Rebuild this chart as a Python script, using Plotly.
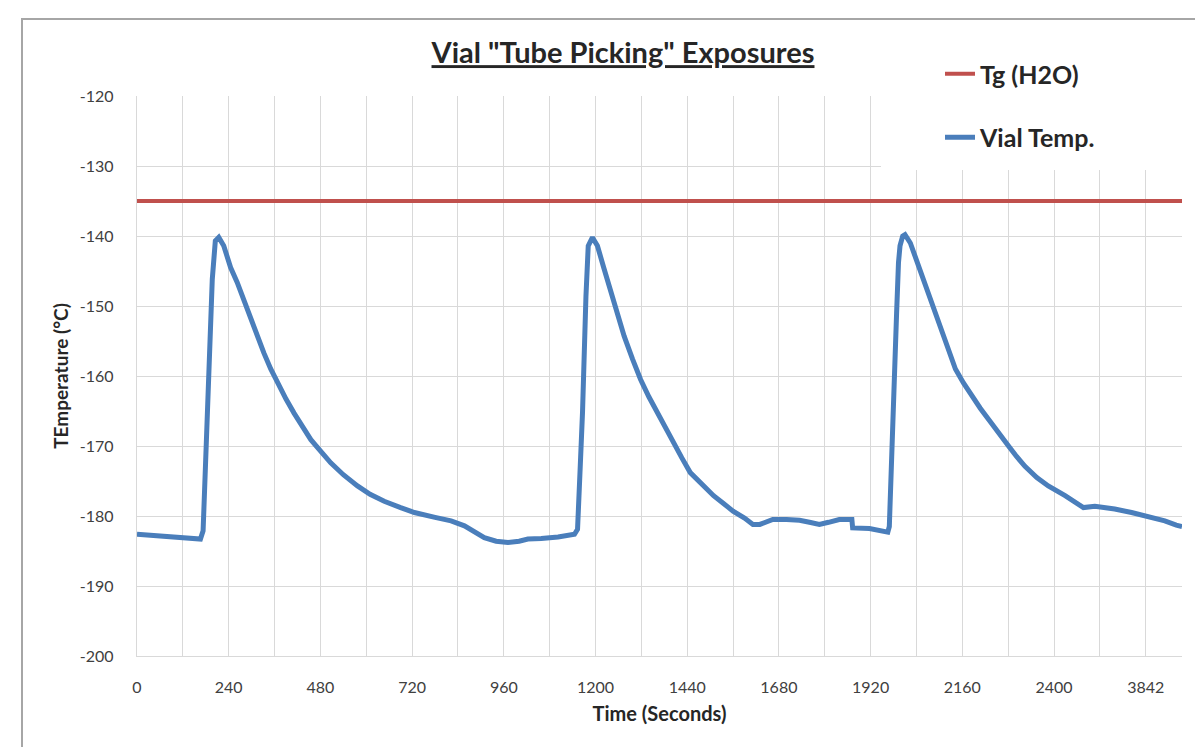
import plotly.graph_objects as go

# ---------------- data ----------------
time_s = [0, 60, 120, 166, 173, 180, 188, 197, 205, 214, 227, 245, 262, 280, 297, 315, 332, 350,
          367, 390, 411, 433, 455, 480, 507, 540, 577, 610, 647, 690, 726, 780, 822, 857, 880,
          909, 940, 971, 1000, 1023, 1058, 1102, 1145, 1153, 1160, 1166, 1175, 1181, 1192, 1205,
          1222, 1240, 1258, 1275, 1297, 1318, 1340, 1361, 1383, 1405, 1426, 1448, 1478, 1509,
          1535, 1560, 1590, 1612, 1630, 1664, 1700, 1734, 1760, 1786, 1810, 1838, 1871, 1873,
          1917, 1965, 1969, 1975, 1982, 1988, 1993, 1997, 2004, 2010, 2024, 2046, 2063, 2081,
          2099, 2116, 2142, 2163, 2185, 2207, 2229, 2255, 2281, 2302, 2324, 2355, 2385, 2429,
          2477, 2507, 2530, 2559, 2603, 2647, 2690, 2720, 2735]
vial_temp_c = [-182.6, -182.8, -183.1, -183.3, -182.1, -172.0, -160.5, -146.2, -140.7, -140.2,
               -141.4, -144.5, -146.6, -149.3, -151.9, -154.4, -156.7, -159.0, -161.0, -163.3,
               -165.3, -167.3, -169.1, -170.7, -172.4, -174.1, -175.7, -176.9, -177.9, -178.8,
               -179.5, -180.2, -180.7, -181.4, -182.2, -183.1, -183.6, -183.8, -183.6, -183.3,
               -183.2, -183.0, -182.6, -181.9, -173.0, -165.2, -148.6, -141.4, -140.2, -141.4,
               -144.6, -148.1, -151.3, -154.3, -157.6, -160.5, -163.0, -165.2, -167.5, -169.6,
               -171.7, -173.8, -175.5, -177.1, -178.2, -179.3, -180.3, -181.2, -181.2, -180.5,
               -180.5, -180.6, -180.9, -181.2, -180.9, -180.5, -180.5, -181.7, -181.8, -182.3,
               -181.5, -170.1, -160.5, -151.1, -143.8, -141.4, -140.0, -139.8, -141.0, -144.3,
               -147.0, -150.0, -152.4, -154.8, -159.0, -161.0, -162.9, -164.6, -166.2, -168.2,
               -170.0, -171.5, -172.9, -174.5, -175.7, -177.1, -178.8, -178.6, -178.7, -179.0,
               -179.5, -180.1, -180.7, -181.3, -181.5]

tg_time = [0, 2735]
tg_temp_c = [-135, -135]

x_tick_values = list(range(0, 2641, 120))
x_tick_labels = ["0", "", "240", "", "480", "", "720", "", "960", "", "1200", "", "1440", "",
                 "1680", "", "1920", "", "2160", "", "2400", "", "3842"]
y_tick_values = [-120, -130, -140, -150, -160, -170, -180, -190, -200]
y_tick_labels = ["-120", "-130", "-140", "-150", "-160", "-170", "-180", "-190", "-200"]

FONT = "Lato"
GRID = "#D9D9D9"

fig = go.Figure()
fig.add_trace(go.Scatter(x=tg_time, y=tg_temp_c, mode="lines", name="<b>Tg (H2O)</b>",
                         legendgroup="a", line=dict(color="#C0504D", width=4)))
fig.add_trace(go.Scatter(x=time_s, y=vial_temp_c, mode="lines", name="<b>Vial Temp.</b>",
                         legendgroup="b", line=dict(color="#4A7EBB", width=5)))

W, H = 1195, 747
L, R, T, B = 137, 13, 96, 91
pw, ph = W - L - R, H - T - B

def px_x(p):
    return (p - L) / pw

def px_y(p):
    return (H - B - p) / ph

# white box behind legend (covers gridlines as in the reference)
fig.add_shape(type="rect", xref="paper", yref="paper", x0=px_x(881), x1=1.05,
              y0=px_y(170), y1=1.05, fillcolor="white", line=dict(width=0), layer="above")
# outer chart frame
fig.add_shape(type="rect", xref="paper", yref="paper", x0=px_x(22), x1=1.2,
              y0=-0.3, y1=px_y(19), fillcolor="rgba(0,0,0,0)",
              line=dict(color="#A6A6A6", width=2), layer="below")

fig.update_layout(
    width=W, height=H,
    margin=dict(l=L, r=R, t=T, b=B),
    paper_bgcolor="white", plot_bgcolor="white",
    font=dict(family=FONT, color="#404040"),
    title=dict(text='<b><u>Vial "Tube Picking" Exposures</u></b>', x=623 / W, xanchor="center",
               y=1 - 53 / H, yanchor="middle", font=dict(size=29, color="#262626", family=FONT)),
    showlegend=True,
    legend=dict(x=px_x(940), y=px_y(51), xanchor="left", yanchor="top",
                bgcolor="rgba(0,0,0,0)", tracegroupgap=28, traceorder="grouped",
                font=dict(size=25, color="#262626", family=FONT)),
    xaxis=dict(range=[0, 2735], tickmode="array", tickvals=x_tick_values, ticktext=x_tick_labels,
               showgrid=True, gridcolor=GRID, gridwidth=1.3, zeroline=False,
               showline=True, linecolor=GRID, linewidth=1.3, ticks="",
               ticklabelstandoff=17, tickfont=dict(size=16, color="#404040"),
               title=dict(text="<b>Time (Seconds)</b>", font=dict(size=20, color="#262626"),
                          standoff=11)),
    yaxis=dict(range=[-200, -120], tickmode="array", tickvals=y_tick_values,
               ticktext=y_tick_labels,
               showgrid=True, gridcolor=GRID, gridwidth=1.3, zeroline=False,
               showline=True, linecolor=GRID, linewidth=1.3, ticks="",
               ticklabelstandoff=19, tickfont=dict(size=16, color="#404040"),
               title=dict(text="<b>TEmperature (°C)</b>", font=dict(size=19, color="#262626"),
                          standoff=6)),
)

fig.write_html("out.html")
